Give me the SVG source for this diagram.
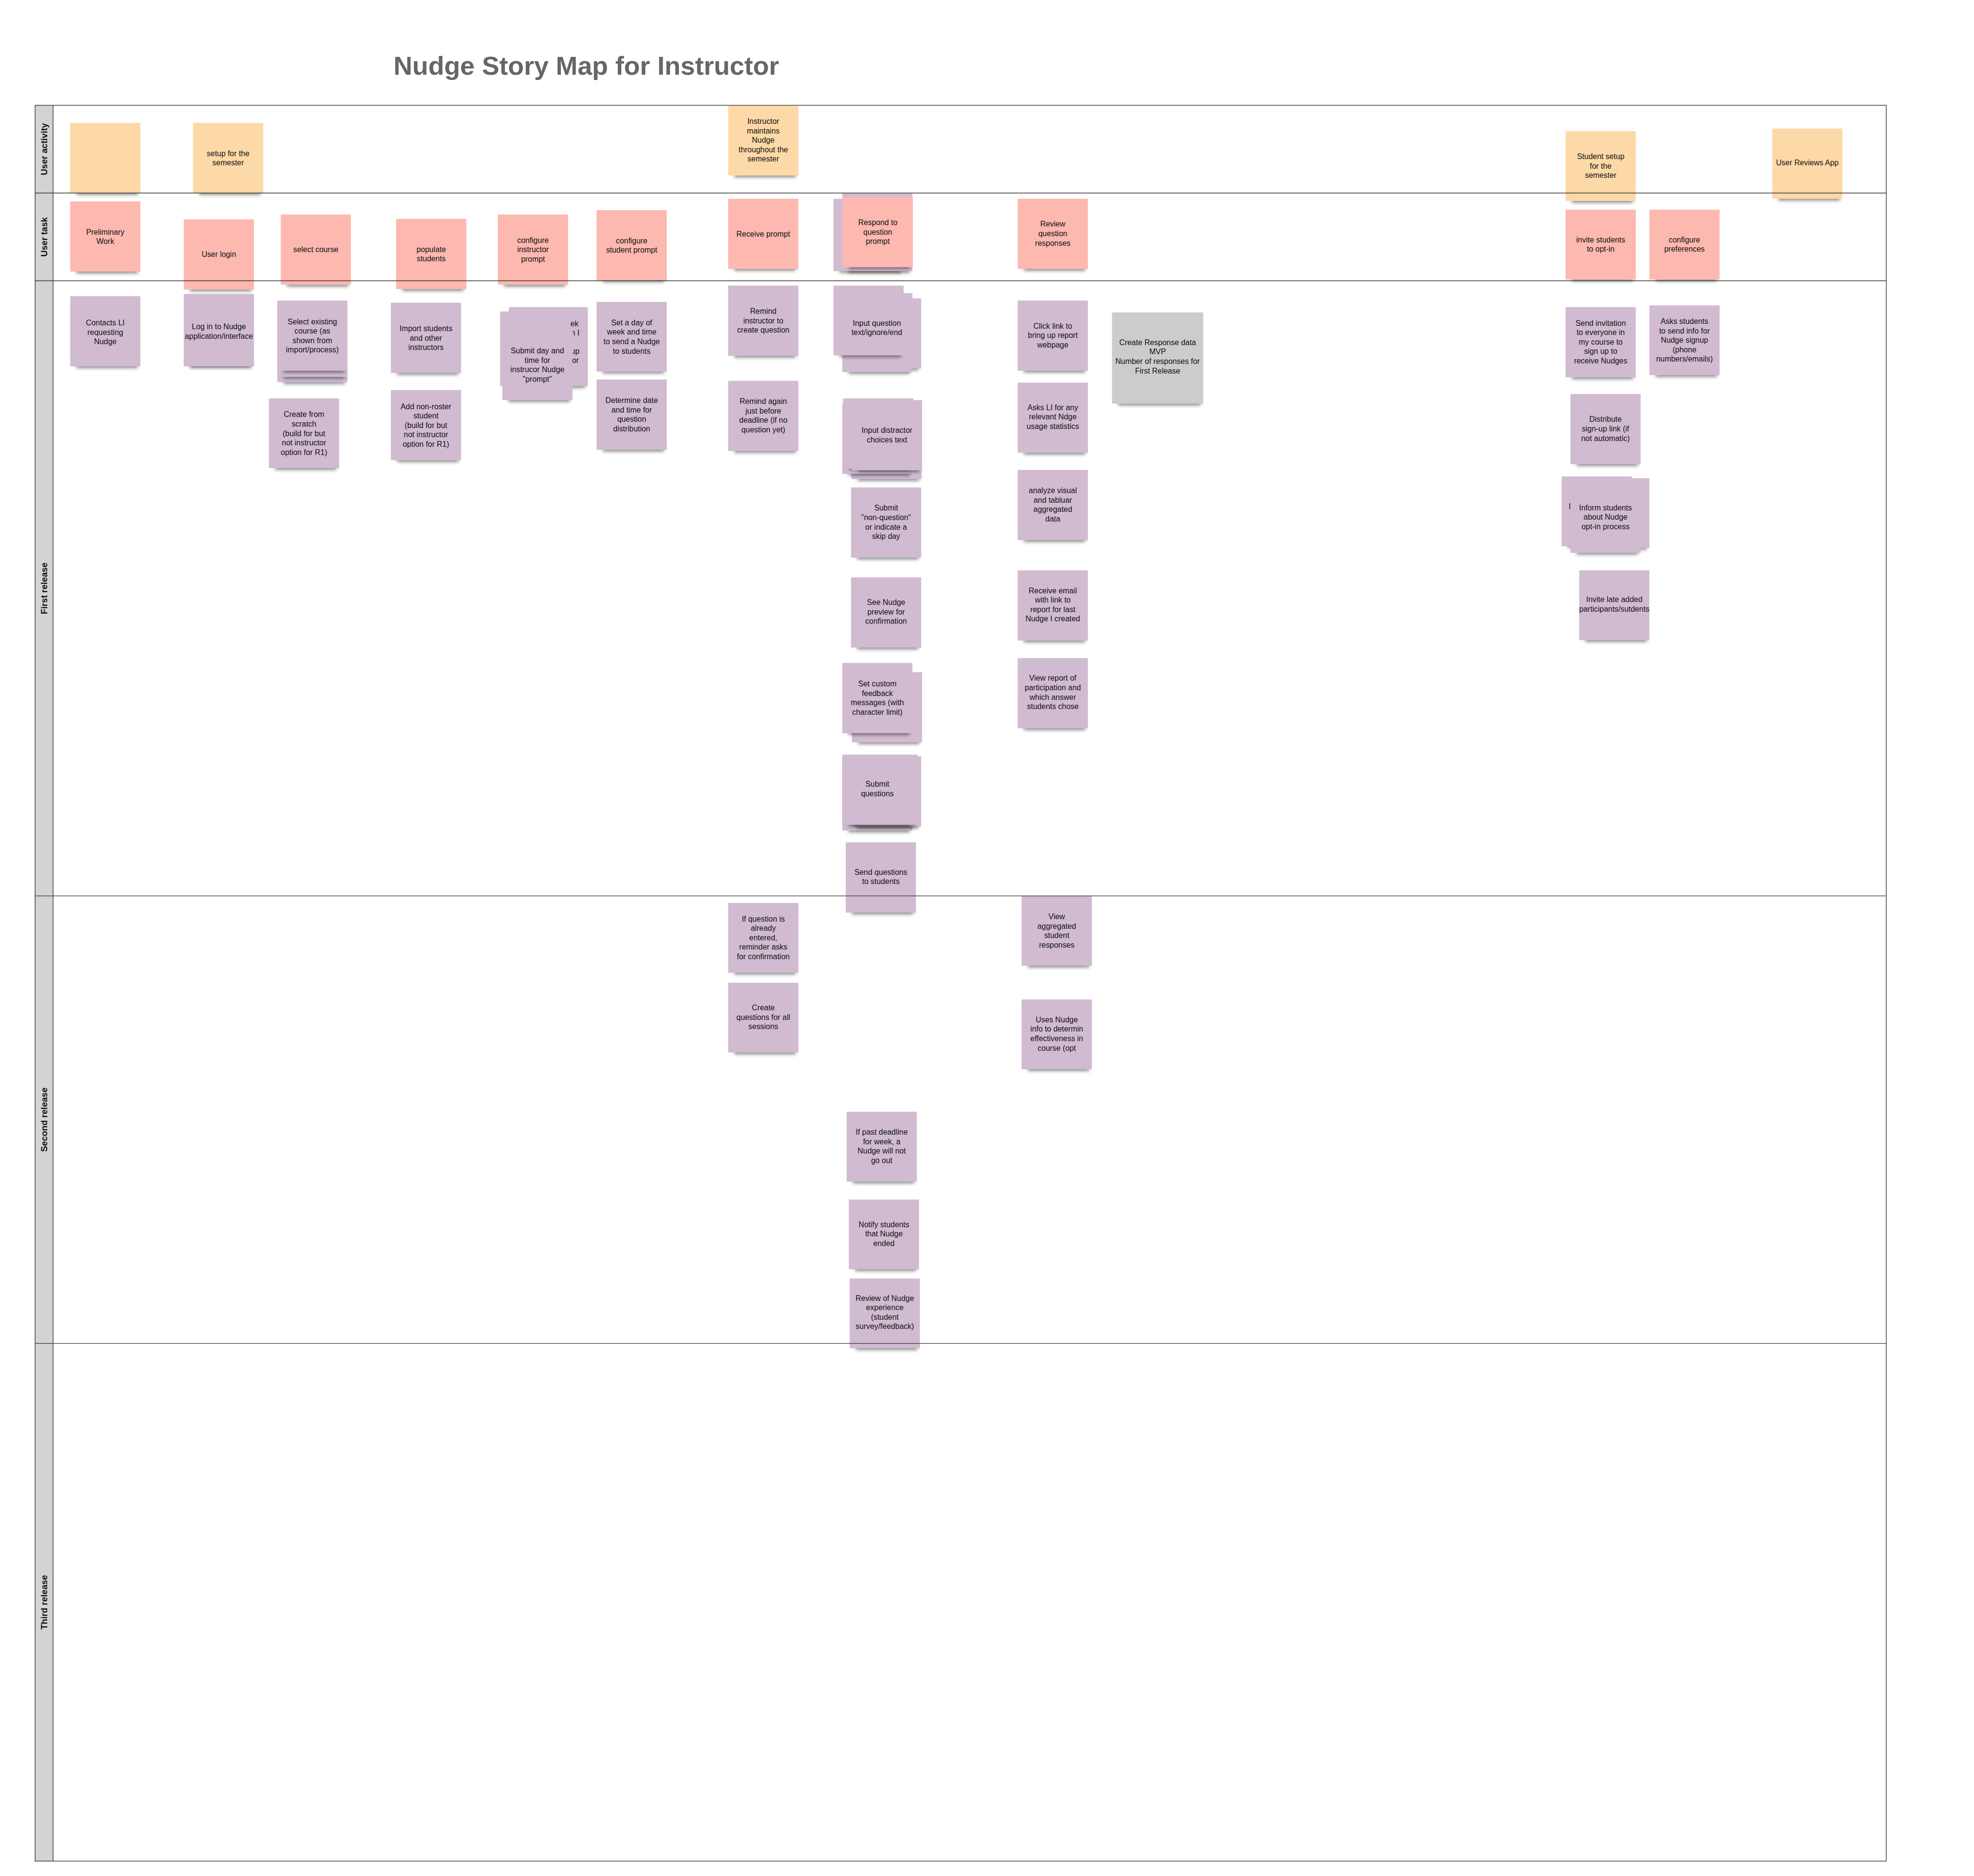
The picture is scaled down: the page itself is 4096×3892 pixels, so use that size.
<svg xmlns="http://www.w3.org/2000/svg" width="4096" height="3892" viewBox="0 0 4096 3892">
<defs>
<filter id="b" x="-20%" y="-200%" width="140%" height="500%"><feGaussianBlur stdDeviation="4"/></filter>
<style>
.a{fill:#FDD9A7}.t{fill:#FDB8B0}.s{fill:#D1BBD1}.g{fill:#CCCCCC}
.sh{fill:#000;opacity:.45;filter:url(#b)}
text{font-family:"Liberation Sans",Arial,sans-serif;font-size:17.5px;fill:#111;text-anchor:middle}
.lane{font-weight:bold;font-size:20px}
.ttl{font-size:59.5px;font-weight:bold;fill:#666;text-anchor:start}
.ln{stroke:#333;stroke-width:1.5;fill:none}
</style>
</defs>
<rect width="4096" height="3892" fill="#fff"/>
<g transform="scale(0.910222)">
<text class="ttl" x="897" y="170">Nudge Story Map for Instructor</text>
<rect x="80" y="240" width="41" height="4002" fill="#D3D3D6"/>
<g id="stickies">
<g id="o1"><rect class="sh" x="174" y="432" width="140" height="12"/><rect class="a" x="160" y="280" width="160" height="160"/></g>
<g id="o2"><rect class="sh" x="454" y="432" width="140" height="12"/><rect class="a" x="440" y="280" width="160" height="160"/><text x="520" y="355.5"><tspan x="520">setup for the</tspan><tspan x="520" dy="21.5">semester</tspan></text></g>
<g id="o3"><rect class="sh" x="1674" y="392" width="140" height="12"/><rect class="a" x="1660" y="241" width="160" height="159"/><text x="1740" y="282.3"><tspan x="1740">Instructor</tspan><tspan x="1740" dy="21.5">maintains</tspan><tspan x="1740" dy="21.5">Nudge</tspan><tspan x="1740" dy="21.5">throughout the</tspan><tspan x="1740" dy="21.5">semester</tspan></text></g>
<g id="o4"><rect class="sh" x="3583" y="450" width="140" height="12"/><rect class="a" x="3569" y="299" width="160" height="159"/><text x="3649" y="362.8"><tspan x="3649">Student setup</tspan><tspan x="3649" dy="21.5">for the</tspan><tspan x="3649" dy="21.5">semester</tspan></text></g>
<g id="o5"><rect class="sh" x="4054" y="445" width="140" height="12"/><rect class="a" x="4040" y="293" width="160" height="160"/><text x="4120" y="377">User Reviews App</text></g>

<g id="p1"><rect class="sh" x="174" y="611" width="140" height="12"/><rect class="t" x="160" y="459" width="160" height="160"/><text x="240" y="534.5"><tspan x="240">Preliminary</tspan><tspan x="240" dy="21.5">Work</tspan></text></g>
<g id="p2"><rect class="sh" x="433" y="652" width="140" height="12"/><rect class="t" x="419" y="500" width="160" height="160"/><text x="499" y="585.3">User login</text></g>
<g id="p3"><rect class="sh" x="654" y="641" width="140" height="12"/><rect class="t" x="640" y="489" width="160" height="160"/><text x="720" y="575">select course</text></g>
<g id="p4"><rect class="sh" x="917" y="651" width="140" height="12"/><rect class="t" x="903" y="499" width="160" height="160"/><text x="983" y="574.5"><tspan x="983">populate</tspan><tspan x="983" dy="21.5">students</tspan></text></g>
<g id="p5"><rect class="sh" x="1149" y="641" width="140" height="12"/><rect class="t" x="1135" y="489" width="160" height="160"/><text x="1215" y="553.3"><tspan x="1215">configure</tspan><tspan x="1215" dy="21.5">instructor</tspan><tspan x="1215" dy="21.5">prompt</tspan></text></g>
<g id="p6"><rect class="sh" x="1374" y="631" width="140" height="12"/><rect class="t" x="1360" y="479" width="160" height="160"/><text x="1440" y="554.5"><tspan x="1440">configure</tspan><tspan x="1440" dy="21.5">student prompt</tspan></text></g>
<g id="p7"><rect class="sh" x="1674" y="605" width="140" height="12"/><rect class="t" x="1660" y="453" width="160" height="160"/><text x="1740" y="539">Receive prompt</text></g>
<g id="p8"><rect class="sh" x="1914" y="610" width="140" height="12"/><rect class="s" x="1900" y="453" width="160" height="165"/><rect class="sh" x="1934" y="610" width="140" height="12"/><rect class="s" x="1920" y="441" width="160" height="177"/><rect class="sh" x="1935" y="601" width="140" height="12"/><rect class="t" x="1921" y="449" width="160" height="160"/><text x="2001" y="513.2"><tspan x="2001">Respond to</tspan><tspan x="2001" dy="21.5">question</tspan><tspan x="2001" dy="21.5">prompt</tspan></text></g>
<g id="p9"><rect class="sh" x="2334" y="605" width="140" height="12"/><rect class="t" x="2320" y="453" width="160" height="160"/><text x="2400" y="516.8"><tspan x="2400">Review</tspan><tspan x="2400" dy="21.5">question</tspan><tspan x="2400" dy="21.5">responses</tspan></text></g>
<g id="p10"><rect class="sh" x="3583" y="629" width="140" height="12"/><rect class="t" x="3569" y="478" width="160" height="159"/><text x="3649" y="552.2"><tspan x="3649">invite students</tspan><tspan x="3649" dy="21.5">to opt-in</tspan></text></g>
<g id="p11"><rect class="sh" x="3774" y="629" width="140" height="12"/><rect class="t" x="3760" y="478" width="160" height="159"/><text x="3840" y="552.2"><tspan x="3840">configure</tspan><tspan x="3840" dy="21.5">preferences</tspan></text></g>

<g id="u1"><rect class="sh" x="174" y="827" width="140" height="12"/><rect class="s" x="160" y="675" width="160" height="160"/><text x="240" y="741.8"><tspan x="240">Contacts LI</tspan><tspan x="240" dy="21.5">requesting</tspan><tspan x="240" dy="21.5">Nudge</tspan></text></g>
<g id="u2"><rect class="sh" x="433" y="822" width="140" height="12"/><rect class="s" x="419" y="670" width="160" height="160"/><rect class="sh" x="433" y="827" width="140" height="12"/><rect class="s" x="419" y="675" width="160" height="160"/><text x="499" y="750.5"><tspan x="499">Log in to Nudge</tspan><tspan x="499" dy="21.5">application/interface</tspan></text></g>
<g id="u3"><rect class="sh" x="646" y="863" width="140" height="12"/><rect class="s" x="632" y="711" width="160" height="160"/><rect class="sh" x="646" y="851" width="140" height="12"/><rect class="s" x="632" y="699" width="160" height="160"/><rect class="sh" x="646" y="837" width="140" height="12"/><rect class="s" x="632" y="685" width="160" height="160"/><text x="712" y="739"><tspan x="712">Select existing</tspan><tspan x="712" dy="21.5">course (as</tspan><tspan x="712" dy="21.5">shown from</tspan><tspan x="712" dy="21.5">import/process)</tspan></text></g>
<g id="u4"><rect class="sh" x="627" y="1059" width="140" height="12"/><rect class="s" x="613" y="908" width="160" height="159"/><text x="693" y="950.8"><tspan x="693">Create from</tspan><tspan x="693" dy="21.5">scratch</tspan><tspan x="693" dy="21.5">(build for but</tspan><tspan x="693" dy="21.5">not instructor</tspan><tspan x="693" dy="21.5">option for R1)</tspan></text></g>
<g id="u5"><rect class="sh" x="905" y="842" width="140" height="12"/><rect class="s" x="891" y="690" width="160" height="160"/><text x="971" y="754.8"><tspan x="971">Import students</tspan><tspan x="971" dy="21.5">and other</tspan><tspan x="971" dy="21.5">instructors</tspan></text></g>
<g id="u6"><rect class="sh" x="905" y="1041" width="140" height="12"/><rect class="s" x="891" y="889" width="160" height="160"/><text x="971" y="932.3"><tspan x="971">Add non-roster</tspan><tspan x="971" dy="21.5">student</tspan><tspan x="971" dy="21.5">(build for but</tspan><tspan x="971" dy="21.5">not instructor</tspan><tspan x="971" dy="21.5">option for R1)</tspan></text></g>
<g id="u7"><rect class="sh" x="1174" y="872" width="160" height="12"/><rect class="s" x="1160" y="700" width="180" height="180"/><text style="text-anchor:end"><tspan x="1319" y="744">ek</tspan><tspan x="1321" y="764.5">n I</tspan><tspan x="1321" y="806">up</tspan><tspan x="1319.5" y="827">or</tspan></text><rect class="sh" x="1154" y="872" width="140" height="12"/><rect class="s" x="1140" y="710" width="160" height="170"/><rect class="sh" x="1159" y="904" width="140" height="12"/><rect class="s" x="1145" y="752" width="160" height="160"/><text x="1225" y="805.5"><tspan x="1225">Submit day and</tspan><tspan x="1225" dy="21.5">time for</tspan><tspan x="1225" dy="21.5">instrucor Nudge</tspan><tspan x="1225" dy="21.5">"prompt"</tspan></text></g>
<g id="u8"><rect class="sh" x="1374" y="839" width="140" height="12"/><rect class="s" x="1360" y="688" width="160" height="159"/><text x="1440" y="741.5"><tspan x="1440">Set a day of</tspan><tspan x="1440" dy="21.5">week and time</tspan><tspan x="1440" dy="21.5">to send a Nudge</tspan><tspan x="1440" dy="21.5">to students</tspan></text></g>
<g id="u9"><rect class="sh" x="1374" y="1017" width="140" height="12"/><rect class="s" x="1360" y="865" width="160" height="160"/><text x="1440" y="918.5"><tspan x="1440">Determine date</tspan><tspan x="1440" dy="21.5">and time  for</tspan><tspan x="1440" dy="21.5">question</tspan><tspan x="1440" dy="21.5">distribution</tspan></text></g>
<g id="u10"><rect class="sh" x="1674" y="803" width="140" height="12"/><rect class="s" x="1660" y="651" width="160" height="160"/><text x="1740" y="715.4"><tspan x="1740">Remind</tspan><tspan x="1740" dy="21.5">instructor to</tspan><tspan x="1740" dy="21.5">create question</tspan></text></g>
<g id="u11"><rect class="sh" x="1674" y="1020" width="140" height="12"/><rect class="s" x="1660" y="868" width="160" height="160"/><text x="1740" y="921"><tspan x="1740">Remind again</tspan><tspan x="1740" dy="21.5">just before</tspan><tspan x="1740" dy="21.5">deadline (if no</tspan><tspan x="1740" dy="21.5">question yet)</tspan></text></g>
<g id="u12"><rect class="sh" x="1954" y="832" width="140" height="12"/><rect class="s" x="1940" y="680" width="160" height="160"/><rect class="sh" x="1934" y="840" width="140" height="12"/><rect class="s" x="1920" y="668" width="160" height="180"/><rect class="sh" x="1914" y="802" width="140" height="12"/><rect class="s" x="1900" y="651" width="160" height="159"/><text x="1999" y="742.5"><tspan x="1999">Input question</tspan><tspan x="1999" dy="21.5">text/ignore/end</tspan></text></g>
<g id="u13"><rect class="sh" x="1955" y="1084" width="140" height="12"/><rect class="s" x="1941" y="932" width="160" height="160"/><rect class="sh" x="1934" y="1072" width="140" height="12"/><rect class="s" x="1920" y="920" width="160" height="160"/><rect class="sh" x="1936" y="1060" width="140" height="12"/><rect class="s" x="1922" y="908" width="160" height="160"/><rect class="sh" x="1956" y="1064" width="140" height="12"/><rect class="s" x="1942" y="912" width="160" height="160"/><text x="2022" y="986.5"><tspan x="2022">Input distractor</tspan><tspan x="2022" dy="21.5">choices text</tspan></text></g>
<g id="u14"><rect class="sh" x="1954" y="1263" width="140" height="12"/><rect class="s" x="1940" y="1111" width="160" height="160"/><text x="2020" y="1164"><tspan x="2020">Submit</tspan><tspan x="2020" dy="21.5">"non-question"</tspan><tspan x="2020" dy="21.5">or indicate a</tspan><tspan x="2020" dy="21.5">skip day</tspan></text></g>
<g id="u15"><rect class="sh" x="1954" y="1468" width="140" height="12"/><rect class="s" x="1940" y="1316" width="160" height="160"/><text x="2020" y="1378.8"><tspan x="2020">See Nudge</tspan><tspan x="2020" dy="21.5">preview for</tspan><tspan x="2020" dy="21.5">confirmation</tspan></text></g>
<g id="u16"><rect class="sh" x="1956" y="1684" width="140" height="12"/><rect class="s" x="1942" y="1532" width="160" height="160"/><rect class="sh" x="1934" y="1663" width="140" height="12"/><rect class="s" x="1920" y="1511" width="160" height="160"/><text x="2000" y="1564.5"><tspan x="2000">Set custom</tspan><tspan x="2000" dy="21.5">feedback</tspan><tspan x="2000" dy="21.5">messages (with</tspan><tspan x="2000" dy="21.5">character limit)</tspan></text></g>
<g id="u17"><rect class="sh" x="1934" y="1885" width="140" height="12"/><rect class="s" x="1920" y="1733" width="160" height="160"/><rect class="sh" x="1954" y="1876" width="140" height="12"/><rect class="s" x="1940" y="1724" width="160" height="160"/><rect class="sh" x="1946" y="1872" width="140" height="12"/><rect class="s" x="1932" y="1720" width="160" height="160"/><rect class="sh" x="1934" y="1872" width="140" height="12"/><rect class="s" x="1920" y="1720" width="160" height="160"/><text x="2000" y="1793.5"><tspan x="2000">Submit</tspan><tspan x="2000" dy="21.5">questions</tspan></text></g>
<g id="u18"><rect class="sh" x="1942" y="2072" width="140" height="12"/><rect class="s" x="1928" y="1920" width="160" height="160"/><text x="2008" y="1993.8"><tspan x="2008">Send questions</tspan><tspan x="2008" dy="21.5">to students</tspan></text></g>
<g id="u19"><rect class="sh" x="2334" y="837" width="140" height="12"/><rect class="s" x="2320" y="685" width="160" height="160"/><text x="2400" y="748.8"><tspan x="2400">Click link to</tspan><tspan x="2400" dy="21.5">bring up report</tspan><tspan x="2400" dy="21.5">webpage</tspan></text></g>
<g id="u20"><rect class="sh" x="2334" y="1024" width="140" height="12"/><rect class="s" x="2320" y="872" width="160" height="160"/><text x="2400" y="934.8"><tspan x="2400">Asks LI for any</tspan><tspan x="2400" dy="21.5">relevant Ndge</tspan><tspan x="2400" dy="21.5">usage statistics</tspan></text></g>
<g id="u21"><rect class="sh" x="2334" y="1223" width="140" height="12"/><rect class="s" x="2320" y="1071" width="160" height="160"/><text x="2400" y="1124"><tspan x="2400">analyze visual</tspan><tspan x="2400" dy="21.5">and tabluar</tspan><tspan x="2400" dy="21.5">aggregated</tspan><tspan x="2400" dy="21.5">data</tspan></text></g>
<g id="u22"><rect class="sh" x="2334" y="1452" width="140" height="12"/><rect class="s" x="2320" y="1300" width="160" height="160"/><text x="2400" y="1352"><tspan x="2400">Receive email</tspan><tspan x="2400" dy="21.5">with link to</tspan><tspan x="2400" dy="21.5">report for last</tspan><tspan x="2400" dy="21.5">Nudge I created</tspan></text></g>
<g id="u23"><rect class="sh" x="2334" y="1652" width="140" height="12"/><rect class="s" x="2320" y="1500" width="160" height="160"/><text x="2400" y="1551.7"><tspan x="2400">View report of</tspan><tspan x="2400" dy="21.5">participation and</tspan><tspan x="2400" dy="21.5">which answer</tspan><tspan x="2400" dy="21.5">students chose</tspan></text></g>
<g id="u24"><rect class="sh" x="2549" y="912" width="188" height="12"/><rect class="g" x="2535" y="712" width="208" height="208"/><text x="2639" y="786.5"><tspan x="2639">Create Response data</tspan><tspan x="2639" dy="21.5">MVP</tspan><tspan x="2639" dy="21.5">Number of responses for</tspan><tspan x="2639" dy="21.5">First Release</tspan></text></g>
<g id="u25"><rect class="sh" x="3583" y="852" width="140" height="12"/><rect class="s" x="3569" y="700" width="160" height="160"/><text x="3649" y="742.3"><tspan x="3649">Send invitation</tspan><tspan x="3649" dy="21.5">to everyone in</tspan><tspan x="3649" dy="21.5">my course to</tspan><tspan x="3649" dy="21.5">sign up to</tspan><tspan x="3649" dy="21.5">receive Nudges</tspan></text></g>
<g id="u26"><rect class="sh" x="3774" y="847" width="140" height="12"/><rect class="s" x="3760" y="696" width="160" height="159"/><text x="3840" y="738.3"><tspan x="3840">Asks students</tspan><tspan x="3840" dy="21.5">to send info for</tspan><tspan x="3840" dy="21.5">Nudge signup</tspan><tspan x="3840" dy="21.5">(phone</tspan><tspan x="3840" dy="21.5">numbers/emails)</tspan></text></g>
<g id="u27"><rect class="sh" x="3594" y="1050" width="140" height="12"/><rect class="s" x="3580" y="898" width="160" height="160"/><text x="3660" y="961.8"><tspan x="3660">Distribute</tspan><tspan x="3660" dy="21.5">sign-up link (if</tspan><tspan x="3660" dy="21.5">not automatic)</tspan></text></g>
<g id="u28"><rect class="sh" x="3574" y="1237" width="140" height="12"/><rect class="s" x="3560" y="1086" width="160" height="159"/><text x="3576" y="1160" style="text-anchor:start">I</text><rect class="sh" x="3614" y="1241" width="140" height="12"/><rect class="s" x="3600" y="1090" width="160" height="159"/><rect class="sh" x="3594" y="1252" width="140" height="12"/><rect class="s" x="3580" y="1100" width="160" height="160"/><text x="3660" y="1163.3"><tspan x="3660">Inform students</tspan><tspan x="3660" dy="21.5">about Nudge</tspan><tspan x="3660" dy="21.5">opt-in process</tspan></text></g>
<g id="u29"><rect class="sh" x="3614" y="1451" width="140" height="12"/><rect class="s" x="3600" y="1300" width="160" height="159"/><text x="3680" y="1372.5"><tspan x="3680">Invite late added</tspan><tspan x="3680" dy="21.5">participants/sutdents</tspan></text></g>

<g id="r1"><rect class="sh" x="1674" y="2209" width="140" height="12"/><rect class="s" x="1660" y="2058" width="160" height="159"/><text x="1740" y="2100.3"><tspan x="1740">If question is</tspan><tspan x="1740" dy="21.5">already</tspan><tspan x="1740" dy="21.5">entered,</tspan><tspan x="1740" dy="21.5">reminder asks</tspan><tspan x="1740" dy="21.5">for confirmation</tspan></text></g>
<g id="r2"><rect class="sh" x="1674" y="2391" width="140" height="12"/><rect class="s" x="1660" y="2240" width="160" height="159"/><text x="1740" y="2302.8"><tspan x="1740">Create</tspan><tspan x="1740" dy="21.5">questions for all</tspan><tspan x="1740" dy="21.5">sessions</tspan></text></g>
<g id="r3"><rect class="sh" x="2343" y="2193" width="140" height="12"/><rect class="s" x="2329" y="2042" width="160" height="159"/><text x="2409" y="2095.3"><tspan x="2409">View</tspan><tspan x="2409" dy="21.5">aggregated</tspan><tspan x="2409" dy="21.5">student</tspan><tspan x="2409" dy="21.5">responses</tspan></text></g>
<g id="r4"><rect class="sh" x="2343" y="2429" width="140" height="12"/><rect class="s" x="2329" y="2278" width="160" height="159"/><text x="2409" y="2330"><tspan x="2409">Uses Nudge</tspan><tspan x="2409" dy="21.5">info to determin</tspan><tspan x="2409" dy="21.5">effectiveness in</tspan><tspan x="2409" dy="21.5">course (opt</tspan></text></g>
<g id="r5"><rect class="sh" x="1944" y="2685" width="140" height="12"/><rect class="s" x="1930" y="2534" width="160" height="159"/><text x="2010" y="2586.5"><tspan x="2010">If past deadline</tspan><tspan x="2010" dy="21.5">for week, a</tspan><tspan x="2010" dy="21.5">Nudge will not</tspan><tspan x="2010" dy="21.5">go out</tspan></text></g>
<g id="r6"><rect class="sh" x="1949" y="2885" width="140" height="12"/><rect class="s" x="1935" y="2734" width="160" height="159"/><text x="2015" y="2796.8"><tspan x="2015">Notify students</tspan><tspan x="2015" dy="21.5">that Nudge</tspan><tspan x="2015" dy="21.5">ended</tspan></text></g>
<g id="r7"><rect class="sh" x="1951" y="3065" width="140" height="12"/><rect class="s" x="1937" y="2914" width="160" height="159"/><text x="2017" y="2964.8"><tspan x="2017">Review of Nudge</tspan><tspan x="2017" dy="21.5">experience</tspan><tspan x="2017" dy="21.5">(student</tspan><tspan x="2017" dy="21.5">survey/feedback)</tspan></text></g>
</g>
<g id="lanes">
<rect class="ln" x="80" y="240" width="4220" height="4002"/>
<line class="ln" x1="121" y1="240" x2="121" y2="4242"/>
<line class="ln" x1="80" y1="440" x2="4300" y2="440"/>
<line class="ln" x1="80" y1="640" x2="4300" y2="640"/>
<line class="ln" x1="80" y1="2042" x2="4300" y2="2042"/>
<line class="ln" x1="80" y1="3062" x2="4300" y2="3062"/>
<text class="lane" transform="translate(108,340) rotate(-90)">User activity</text>
<text class="lane" transform="translate(108,540) rotate(-90)">User task</text>
<text class="lane" transform="translate(108,1341) rotate(-90)">First release</text>
<text class="lane" transform="translate(108,2552) rotate(-90)">Second release</text>
<text class="lane" transform="translate(108,3652) rotate(-90)">Third release</text>
</g>
</g>
</svg>
